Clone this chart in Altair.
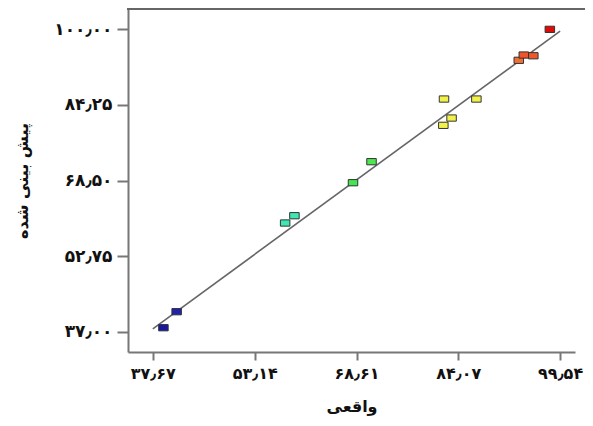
import altair as alt
import pandas as pd

actual = [39.28, 41.29, 57.77, 59.18, 68.08, 70.89, 81.80, 83.05, 81.90, 86.82, 93.26, 94.02, 95.47, 97.98]
predicted = [37.89, 41.22, 59.66, 61.18, 68.04, 72.41, 79.97, 81.49, 85.44, 85.44, 93.49, 94.59, 94.44, 99.93]

x_ticks = [37.67, 53.14, 68.61, 84.07, 99.54]
x_tick_labels = ["۳۷٫۶۷", "۵۳٫۱۴", "۶۸٫۶۱", "۸۴٫۰۷", "۹۹٫۵۴"]
y_ticks = [37.00, 52.75, 68.50, 84.25, 100.00]
y_tick_labels = ["۳۷٫۰۰", "۵۲٫۷۵", "۶۸٫۵۰", "۸۴٫۲۵", "۱۰۰٫۰۰"]

line_x = [37.67, 99.54]
line_y = [37.67, 99.54]

x_title = "واقعی"
y_title = "پیش بینی شده"

LEFT = 120
W, H = 447, 343
RIGHT = 577 - LEFT - W
FONT = "DejaVu Sans"


def label_expr(vals, labels):
    expr = "''"
    for v, l in reversed(list(zip(vals, labels))):
        expr = f"abs(datum.value - {v}) < 0.001 ? '{l}' : ({expr})"
    return expr


pts = pd.DataFrame({"actual": actual, "predicted": predicted})
line_df = pd.DataFrame({"actual": line_x, "predicted": line_y})

xscale = alt.Scale(domain=[33.90, 101.80], nice=False, zero=False)
yscale = alt.Scale(domain=[32.84, 104.16], nice=False, zero=False)

xaxis = alt.Axis(
    values=x_ticks, labelExpr=label_expr(x_ticks, x_tick_labels), grid=False,
    domainColor="#777", domainWidth=2, tickColor="#777", tickWidth=2, tickSize=8,
    labelFont=FONT, labelFontSize=16, labelFontWeight="bold", labelColor="#111", labelPadding=5,
    title=x_title, titleFont=FONT, titleFontSize=16, titleFontWeight="bold", titleColor="#111",
    titleY=54, titleBaseline="middle",
)
yaxis = alt.Axis(
    values=y_ticks, labelExpr=label_expr(y_ticks, y_tick_labels), grid=False,
    domainColor="#777", domainWidth=2, tickColor="#777", tickWidth=2, tickSize=11,
    labelFont=FONT, labelFontSize=17, labelFontWeight="bold", labelColor="#111", labelPadding=5,
    title=y_title, titleFont=FONT, titleFontSize=16, titleFontWeight="bold", titleColor="#111",
    titleX=-106, titleY=H / 2, titleBaseline="middle",
)

line = alt.Chart(line_df).mark_line(color="#666", strokeWidth=1.6).encode(
    x=alt.X("actual:Q", scale=xscale, axis=xaxis),
    y=alt.Y("predicted:Q", scale=yscale, axis=yaxis),
)

points = alt.Chart(pts).mark_point(
    shape="M-1,-0.66H1V0.66H-1Z", size=90, filled=True, opacity=1,
    stroke="#333", strokeWidth=1,
).encode(
    x="actual:Q",
    y="predicted:Q",
    fill=alt.Fill(
        "predicted:Q",
        scale=alt.Scale(
            domain=[37, 42, 59, 62, 67, 73, 79, 88, 93, 95, 100],
            range=["#1414a0", "#2424b4", "#3ee6b4", "#3ee6b0", "#3ee650", "#4ee64e",
                   "#f2f24a", "#f2f04a", "#f07a3a", "#f04828", "#e00808"],
        ),
        legend=None,
    ),
)

top_border = alt.Chart(pts).mark_rule(color="#666", strokeWidth=2).encode(
    x=alt.value(-1), x2=alt.value(W + RIGHT), y=alt.value(0)
)

chart = alt.layer(line, points, top_border).properties(
    width=W, height=H,
    autosize=alt.AutoSizeParams(type="none"),
    padding={"left": LEFT, "top": 1, "right": RIGHT, "bottom": 66},
).configure_view(stroke=None)

chart.save("out.html", embed_options={"renderer": "svg", "actions": False})
